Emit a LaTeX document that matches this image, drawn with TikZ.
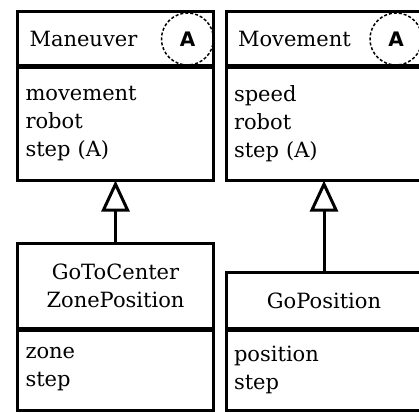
\documentclass[tikz,border=0pt]{standalone}
\usepackage{fontspec}
\setmainfont{DejaVu Serif}
\setsansfont{DejaVu Sans}
\usepackage{tikz}
\usetikzlibrary{arrows.meta,positioning}
\definecolor{ink}{RGB}{0,0,0}

\begin{document}
\begin{tikzpicture}[
  x=1pt, y=-1pt,
  font=\fontsize{21}{28}\selectfont, node distance=0pt,
  hdr/.style={draw=ink, line width=3pt, rectangle, outer sep=0pt, minimum width=196pt, inner xsep=12pt, text width=172pt},
  bdy/.style={draw=ink, line width=3pt, rectangle, outer sep=0pt, minimum width=196pt, inner xsep=8pt, text width=180pt, align=left},
  abs/.style={circle, draw=ink, dash pattern=on 3pt off 2pt, line width=1.5pt, minimum size=52pt, inner sep=0pt, font=\fontsize{20}{20}\selectfont\sffamily\bfseries},
  sep/.style={ink, line width=5pt},
  arr/.style={-{Triangle[open, fill=white, length=31pt, width=28pt]}, line width=3pt, ink},
]
\useasboundingbox (0,0) rectangle (419,412);
% abstract classes
\node[hdr, align=left, minimum height=55pt, anchor=north west] (mntitle) at (17.5,11.5) {Maneuver};
\node[bdy, minimum height=114pt, below=of mntitle] (mnbody) {movement\\robot\\step (A)};
\node[hdr, align=left, minimum height=55pt, right=12.5pt of mntitle] (mvtitle) {Movement};
\node[bdy, minimum height=114pt, below=of mvtitle] (mvbody) {speed\\robot\\step (A)};
\node[abs] (mnabs) at ([xshift=-26pt]mntitle.east) {A};
\node[abs] (mvabs) at ([xshift=-26pt]mvtitle.east) {A};
% concrete classes
\node[hdr, align=center, minimum height=86pt, below=62.5pt of mnbody] (gctitle) {GoToCenter\\ZonePosition};
\node[bdy, minimum height=81pt, below=of gctitle] (gcbody) {zone\\step};
\node[hdr, align=center, minimum height=57pt, below=91.5pt of mvbody] (gptitle) {GoPosition};
\node[bdy, minimum height=81pt, below=of gptitle] (gpbody) {position\\step};
% dividers
\foreach \c in {mntitle,mvtitle,gctitle,gptitle}
  \draw[sep] (\c.south west) -- (\c.south east);
% inheritance
\draw[arr] (gctitle.north) -- (mnbody.south);
\draw[arr] (gptitle.north) -- (mvbody.south);
\end{tikzpicture}
\end{document}
